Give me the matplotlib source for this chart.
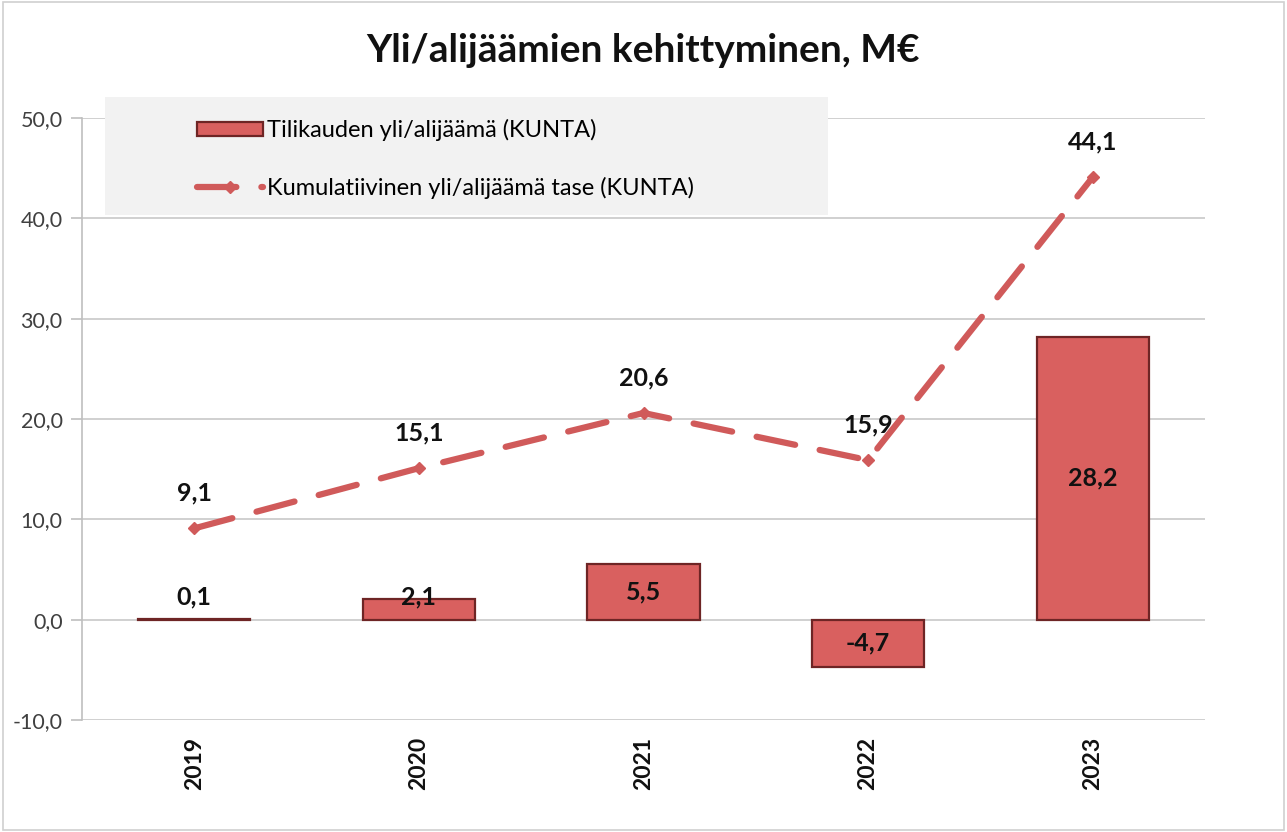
import matplotlib
matplotlib.use("Agg")
import matplotlib.pyplot as plt
from matplotlib.patches import Rectangle
import numpy as np

years = ["2019", "2020", "2021", "2022", "2023"]
tilikausi = [0.1, 2.1, 5.5, -4.7, 28.2]
kumulatiivinen = [9.1, 15.1, 20.6, 15.9, 44.1]
yticks = [-10, 0, 10, 20, 30, 40, 50]

plt.rcParams['font.family'] = ['Lato', 'DejaVu Sans']

def fmt(v):
    return f"{v:.1f}".replace(".", ",")

fig = plt.figure(figsize=(12.87, 8.32), dpi=100)
fig.patches.append(Rectangle((0.002, 0.002), 0.996, 0.996, transform=fig.transFigure,
                             fill=False, edgecolor='#d0d0d0', linewidth=1.2))
ax = fig.add_axes([82/1287, 1-720/832, (1205-82)/1287, (720-118)/832])

x = np.arange(len(years))
bars = ax.bar(x, tilikausi, width=0.5, color='#d9605f', edgecolor='#6e2525',
              linewidth=1.6, zorder=3, label='Tilikauden yli/alijäämä (KUNTA)')
line, = ax.plot(x, kumulatiivinen, color='#d05a5a', linewidth=4.5, dashes=(6.3, 4),
                dash_capstyle='round', marker='D', markersize=6, zorder=4,
                label='Kumulatiivinen yli/alijäämä tase (KUNTA)')

for xi, v in zip(x, kumulatiivinen):
    ax.text(xi, v + 3.5, fmt(v), ha='center', va='center', fontsize=18,
            fontweight='bold', color='#111111', zorder=5)
for xi, v in zip(x, tilikausi):
    y = v / 2 if abs(v) > 4 else 2.3
    ax.text(xi, y, fmt(v), ha='center', va='center', fontsize=18,
            fontweight='bold', color='#111111', zorder=5)

ax.set_xlim(-0.5, len(years) - 0.5)
ax.set_ylim(-10, 50)
ax.set_yticks(yticks)
ax.set_yticklabels([fmt(t) for t in yticks], fontsize=15.5, color='#404040')
ax.set_xticks(x)
ax.set_xticklabels(years, rotation=90, fontsize=16.5, fontweight='bold', color='#111111')
ax.tick_params(axis='x', length=0, pad=12)
ax.tick_params(axis='y', length=8, color='#bfbfbf', width=1.2, pad=6)
ax.grid(axis='y', color='#c8c8c8', linewidth=1.2, zorder=0)
for s in ['top', 'right', 'bottom']:
    ax.spines[s].set_visible(False)
ax.spines['left'].set_color('#bfbfbf')
ax.spines['left'].set_linewidth(1.2)

# legend background
fig.patches.append(Rectangle((105/1287, 1-215/832), (828-105)/1287, (215-97)/832,
                             transform=fig.transFigure, facecolor='#f2f2f2',
                             edgecolor='none', zorder=5))
leg = fig.legend(handles=[bars, line], loc='upper left',
                 bbox_to_anchor=(176/1287, 1-98/832), frameon=False, numpoints=1,
                 fontsize=17, labelspacing=1.5, handlelength=2.8, handleheight=0.5,
                 handletextpad=0.15)
leg.set_zorder(6)

fig.text(0.5, 1-50/832, "Yli/alijäämien kehittyminen, M€", ha='center', va='center',
         fontsize=28, fontweight='bold', color='#111111')

fig.savefig("out.png", dpi=100)
